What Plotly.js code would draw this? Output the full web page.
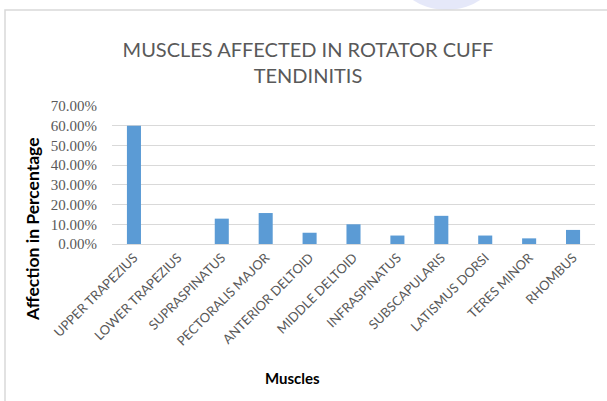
<!DOCTYPE html>
<html>
<head>
<meta charset="utf-8">
<script src="https://cdn.plot.ly/plotly-3.0.1.min.js"></script>
<style>
  html, body { margin: 0; padding: 0; background: #ffffff; }
  #chart { width: 607px; height: 401px; }
</style>
</head>
<body>
<div id="chart"></div>
<script>
// ---- data ----
const muscles = [
  'UPPER TRAPEZIUS', 'LOWER TRAPEZIUS', 'SUPRASPINATUS', 'PECTORALIS MAJOR',
  'ANTERIOR DELTOID', 'MIDDLE DELTOID', 'INFRASPINATUS', 'SUBSCAPULARIS',
  'LATISMUS DORSI', 'TERES MINOR', 'RHOMBUS'
];
const affection = [0.6000, 0.0000, 0.1286, 0.1571, 0.0571, 0.1000, 0.0429, 0.1429, 0.0429, 0.0286, 0.0714];
const yTicks = [0, 0.1, 0.2, 0.3, 0.4, 0.5, 0.6, 0.7];
const chartTitle = 'MUSCLES AFFECTED IN ROTATOR CUFF<br>TENDINITIS';
const xTitle = 'Muscles';
const yTitle = 'Affection in Percentage';

// ---- layout helpers (pixel -> paper) ----
const W = 607, H = 401, ML = 112, MR = 12, MT = 106, MB = 157;
const PW = W - ML - MR, PH = H - MT - MB;
const px = v => (v - ML) / PW;
const py = v => (H - MB - v) / PH;

const SANS = 'Lato, Open Sans, sans-serif';
const SERIF = "'Liberation Serif', 'Times New Roman', Times, serif";

const trace = {
  type: 'bar',
  x: muscles,
  y: affection,
  marker: { color: '#5B9BD5', line: { width: 0 } },
  hoverinfo: 'x+y'
};

const layout = {
  width: W, height: H,
  margin: { l: ML, r: MR, t: MT, b: MB, pad: 0 },
  paper_bgcolor: '#ffffff',
  plot_bgcolor: '#ffffff',
  showlegend: false,
  bargap: 0.68,
  title: {
    text: chartTitle,
    font: { family: SANS, size: 20, color: '#595959' },
    x: 308 / W, xref: 'container', xanchor: 'center',
    y: 1 - 57 / H, yref: 'container', yanchor: 'middle'
  },
  xaxis: {
    type: 'category',
    tickangle: -45,
    tickfont: { family: SANS, size: 13, color: '#595959' },
    showline: true, linecolor: '#D9D9D9', linewidth: 1,
    showgrid: false, ticks: '', zeroline: false,
    fixedrange: true
  },
  yaxis: {
    range: [0, 0.7],
    tickvals: yTicks,
    tickformat: '.2%',
    tickfont: { family: SERIF, size: 15, color: '#595959' },
    ticks: 'outside', ticklen: 11, tickcolor: 'rgba(0,0,0,0)',
    showgrid: true, gridcolor: '#D9D9D9', gridwidth: 1,
    zeroline: false, showline: false,
    fixedrange: true
  },
  annotations: [
    {
      text: '<b>' + xTitle + '</b>', showarrow: false,
      xref: 'paper', yref: 'paper', x: px(292), y: py(378),
      xanchor: 'center', yanchor: 'middle',
      font: { family: SANS, size: 15, color: '#000000' }
    },
    {
      text: '<b>' + yTitle + '</b>', showarrow: false, textangle: -90,
      xref: 'paper', yref: 'paper', x: px(32), y: py(229),
      xanchor: 'center', yanchor: 'middle',
      font: { family: SANS, size: 17.5, color: '#000000' }
    }
  ],
  shapes: [
    {
      type: 'circle', xref: 'paper', yref: 'paper', layer: 'below',
      x0: px(393), x1: px(500), y0: py(10), y1: py(-80),
      fillcolor: 'rgba(222,226,248,0.8)', line: { width: 0 }
    },
    {
      type: 'rect', xref: 'paper', yref: 'paper', layer: 'below',
      x0: px(5), x1: px(620), y0: py(420), y1: py(10),
      fillcolor: '#ffffff', line: { color: '#D9D9D9', width: 1.5 }
    }
  ]
};

Plotly.newPlot('chart', [trace], layout, { displayModeBar: false, staticPlot: true });
</script>
</body>
</html>
